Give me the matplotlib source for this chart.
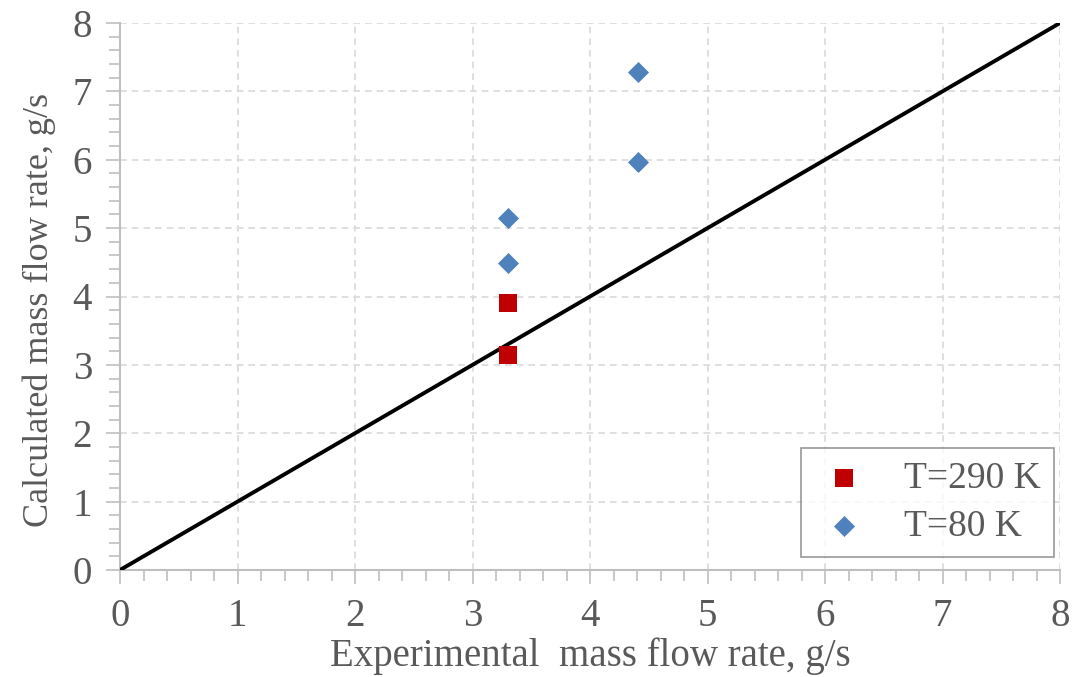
import numpy as np
import matplotlib.pyplot as plt
from matplotlib.ticker import MultipleLocator

# data
x_290 = [3.30, 3.30]
y_290 = [3.90, 3.14]
x_80 = [3.30, 3.30, 4.41, 4.41]
y_80 = [4.49, 5.15, 5.96, 7.28]
line_x = [0, 8]
line_y = [0, 8]

plt.rcParams['font.family'] = ['Liberation Serif', 'DejaVu Serif']
txt = '#595959'
gray = '#bfbfbf'

fig = plt.figure(figsize=(10.85, 6.77), dpi=100)
ax = fig.add_axes([120 / 1085, (677 - 570) / 677, 940 / 1085, 547 / 677])

ax.plot(line_x, line_y, color='black', lw=2.8, zorder=3)
ax.scatter(x_290, y_290, marker='s', s=160, color='#c00000', label='T=290 K', zorder=4, linewidths=0)
ax.scatter(x_80, y_80, marker='D', s=115, color='#4f81bd', label='T=80 K', zorder=4, linewidths=0)

ax.set_xlim(0, 8)
ax.set_ylim(0, 8)
ax.xaxis.set_major_locator(MultipleLocator(1))
ax.yaxis.set_major_locator(MultipleLocator(1))
ax.xaxis.set_minor_locator(MultipleLocator(0.2))
ax.yaxis.set_minor_locator(MultipleLocator(0.2))
ax.grid(True, which='major', ls=(0, (4, 3)), color='#d9d9d9', lw=1.2)
ax.tick_params(which='major', direction='out', length=10, width=1.2, color=gray,
               labelsize=28, labelcolor=txt, pad=10)
ax.tick_params(which='minor', direction='out', length=8, width=1.2, color=gray)
for s in ['top', 'right']:
    ax.spines[s].set_visible(False)
for s in ['left', 'bottom']:
    ax.spines[s].set_color(gray)
    ax.spines[s].set_linewidth(1.5)

ax.set_xlabel('Experimental  mass flow rate, g/s', fontsize=28, color=txt, labelpad=2)
ax.set_ylabel('Calculated mass flow rate, g/s', fontsize=26, color=txt)
ax.yaxis.set_label_coords(-0.068, 0.475)

leg = ax.legend(loc='lower right', fontsize=27, frameon=True, fancybox=False,
                edgecolor='#7f7f7f', handletextpad=0.8, borderpad=0.35,
                labelspacing=0.35, handlelength=1.6, borderaxespad=0,
                bbox_to_anchor=(0.994, 0.024))
for t in leg.get_texts():
    t.set_color(txt)
leg.get_frame().set_linewidth(1.2)

fig.savefig('out.png', dpi=100)
